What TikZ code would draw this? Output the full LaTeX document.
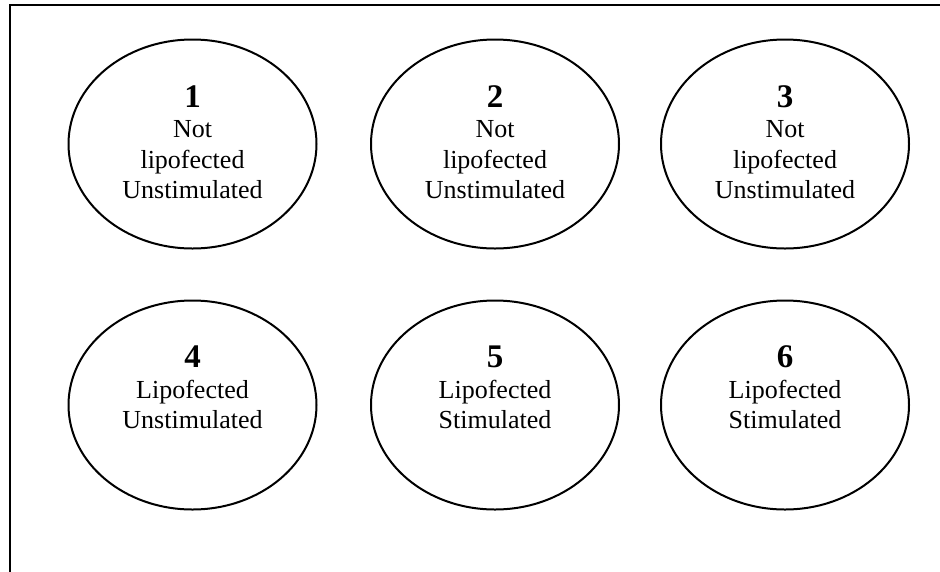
\documentclass[tikz,border=0pt]{standalone}
\usepackage{fontspec}
\setmainfont{Liberation Serif}
\usetikzlibrary{shapes.geometric}
\begin{document}
\begin{tikzpicture}[x=1pt,y=-1pt,
  well/.style={draw, ellipse, line width=2pt, minimum width=248pt,
    minimum height=209pt, inner sep=0pt},
  wellnum/.style={anchor=base, inner sep=0pt,
    font=\fontsize{33}{33}\selectfont\bfseries},
  welltxt/.style={anchor=base, inner sep=0pt,
    font=\fontsize{26}{26}\selectfont}]
  \useasboundingbox (0,0) rectangle (940,571);
  \clip (0,0) rectangle (940,571);
  % outer frame
  \draw[line width=2pt] (10,5) rectangle (980,620);

  % top row of wells
  \node[well] (w1) at (192.5,144) {};
  \node[well] (w2) at (495,144) {};
  \node[well] (w3) at (785,144) {};
  % bottom row of wells
  \node[well] (w4) at (192.5,405) {};
  \node[well] (w5) at (495,405) {};
  \node[well] (w6) at (785,405) {};

  % labels, well 1
  \node[wellnum] (n1) at (192.5,107) {1};
  \node[welltxt] (a1) at (192.5,137) {Not};
  \node[welltxt] (b1) at (192.5,168) {lipofected};
  \node[welltxt] (c1) at (192.5,198) {Unstimulated};
  % well 2
  \node[wellnum] (n2) at (495,107) {2};
  \node[welltxt] (a2) at (495,137) {Not};
  \node[welltxt] (b2) at (495,168) {lipofected};
  \node[welltxt] (c2) at (495,198) {Unstimulated};
  % well 3
  \node[wellnum] (n3) at (785,107) {3};
  \node[welltxt] (a3) at (785,137) {Not};
  \node[welltxt] (b3) at (785,168) {lipofected};
  \node[welltxt] (c3) at (785,198) {Unstimulated};
  % well 4
  \node[wellnum] (n4) at (192.5,367) {4};
  \node[welltxt] (a4) at (192.5,398) {Lipofected};
  \node[welltxt] (b4) at (192.5,428) {Unstimulated};
  % well 5
  \node[wellnum] (n5) at (495,367) {5};
  \node[welltxt] (a5) at (495,398) {Lipofected};
  \node[welltxt] (b5) at (495,428) {Stimulated};
  % well 6
  \node[wellnum] (n6) at (785,367) {6};
  \node[welltxt] (a6) at (785,398) {Lipofected};
  \node[welltxt] (b6) at (785,428) {Stimulated};
\end{tikzpicture}
\end{document}
